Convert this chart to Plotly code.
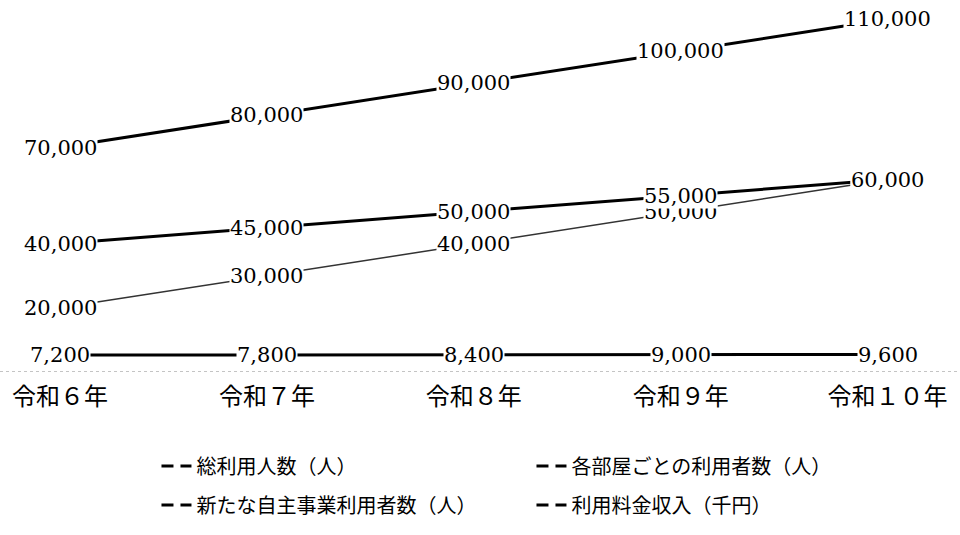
import plotly.graph_objects as go

categories = ["令和６年", "令和７年", "令和８年", "令和９年", "令和１０年"]
total_users = [70000, 80000, 90000, 100000, 110000]
room_users = [40000, 45000, 50000, 55000, 60000]
new_users = [20000, 30000, 40000, 50000, 60000]
fee_income = [7200, 7800, 8400, 9000, 9600]

names = ["総利用人数（人）", "各部屋ごとの利用者数（人）",
         "新たな自主事業利用者数（人）", "利用料金収入（千円）"]

series = [
    (names[0], total_users, "y", 3, "#000000"),
    (names[1], room_users, "y", 3, "#000000"),
    (names[2], new_users, "y", 1.5, "#333333"),
    (names[3], fee_income, "y2", 3, "#000000"),
]

fig = go.Figure()
for name, vals, yax, w, col in series:
    fig.add_trace(go.Scatter(x=categories, y=vals, mode="lines", yaxis=yax,
                             line=dict(color=col, width=w), showlegend=False,
                             hoverinfo="skip"))

# legend-only entries (dashed symbols as in the original)
legend_ids = ["legend", "legend", "legend2", "legend2"]
for name, lg in zip(names, legend_ids):
    fig.add_trace(go.Scatter(x=[None], y=[None], mode="lines", name=name,
                             line=dict(color="#000000", width=3, dash="12px,7px"),
                             legend=lg))

label_font = dict(family="DejaVu Serif", size=21, color="#000000")
ann = []
order = [2, 1, 0, 3]
for k in order:
    name, vals, yax, w, col = series[k]
    for c, v in zip(categories, vals):
        ann.append(dict(x=c, y=v, xref="x", yref=yax, text=f"{v:,}",
                        showarrow=False, font=label_font, bgcolor="white",
                        borderpad=0, xanchor="center", yanchor="middle"))

legend_font = dict(family="Noto Sans CJK JP", size=20, color="#000000")
fig.update_layout(
    width=960, height=535, autosize=False,
    margin=dict(l=0, r=0, t=0, b=163),
    paper_bgcolor="white", plot_bgcolor="white",
    xaxis=dict(type="category", range=[-0.29, 4.35], showgrid=False,
               showline=False, zeroline=False, ticks="",
               tickfont=dict(family="Noto Sans CJK JP", size=24, color="#000000"),
               ticklabelstandoff=8),
    yaxis=dict(range=[0, 116000], visible=False),
    yaxis2=dict(overlaying="y", range=[-84200, 1915800], visible=False),
    shapes=[dict(type="line", xref="paper", x0=0, x1=1, yref="y", y0=0, y1=0,
                 line=dict(color="#888888", width=1, dash="dot"))],
    annotations=ann,
    legend=dict(orientation="h", x=0.163, y=-0.2527, xanchor="left", yanchor="middle",
                entrywidth=330, font=legend_font, bgcolor="rgba(0,0,0,0)"),
    legend2=dict(orientation="h", x=0.163, y=-0.3575, xanchor="left", yanchor="middle",
                 entrywidth=330, font=legend_font, bgcolor="rgba(0,0,0,0)"),
)

fig.write_html("out.html")
